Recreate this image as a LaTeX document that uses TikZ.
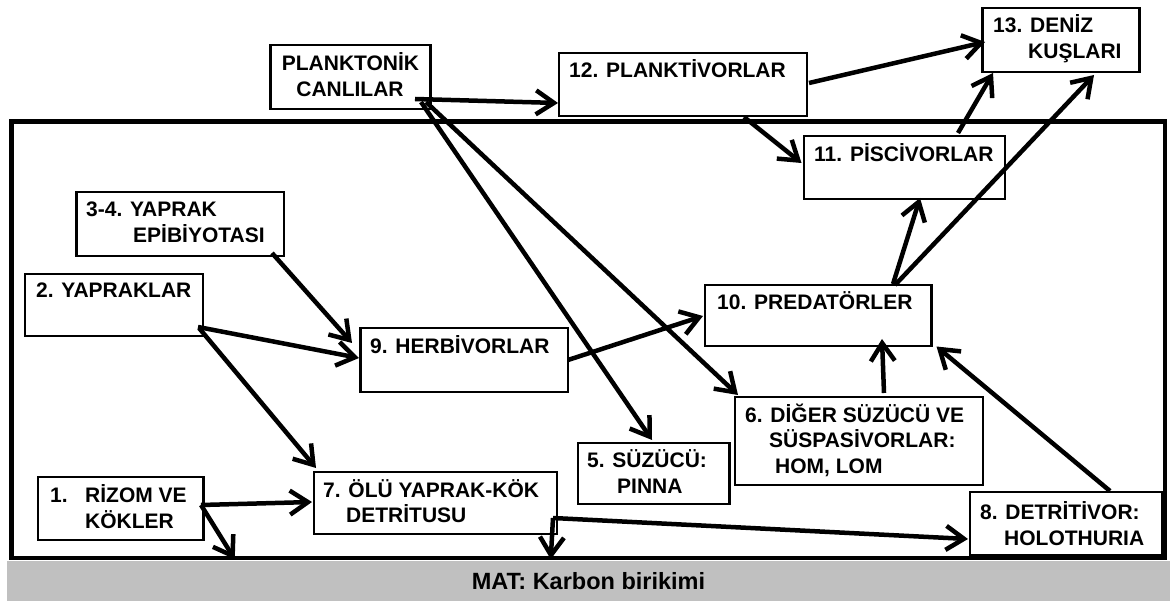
\documentclass[tikz,border=0pt]{standalone}
\usepackage{fontspec}
\setmainfont{Liberation Sans}
\usetikzlibrary{arrows.meta}
\definecolor{matgray}{RGB}{192,192,192}
\begin{document}
\begin{tikzpicture}[x=1pt,y=-1pt,
  box/.style={draw, line width=2.5pt, inner sep=0pt, outer sep=0pt},
  lbl/.style={anchor=base west, inner sep=0pt, font=\fontsize{21}{25}\selectfont\bfseries},
  lblc/.style={lbl, anchor=base},
  arr/.style={line width=4.5pt, -{Straight Barb[length=18pt,width=24pt]}},
]
\useasboundingbox (0,0) rectangle (1170,601);
% carbon bar and frame
\node[fill=matgray, minimum width=1163pt, minimum height=40pt, inner sep=0pt,
      font=\fontsize{23.5}{28}\selectfont\bfseries] (mat) at (588.5,581) {MAT: Karbon birikimi};
\node[draw, line width=4.5pt, inner sep=0pt, minimum width=1153.5pt, minimum height=436.5pt] (frame) at (588.25,339.75) {};
% boxes
\node[box, minimum width=160pt, minimum height=64pt] (pk)  at (350.5,77) {};
\node[box, minimum width=248pt, minimum height=63pt] (b12) at (683,84.5) {};
\node[box, minimum width=157pt, minimum height=64pt] (b13) at (1061,40) {};
\node[box, minimum width=201pt, minimum height=63pt] (b11) at (904.5,167.5) {};
\node[box, minimum width=226.5pt, minimum height=61pt] (b10) at (818.25,315.5) {};
\node[box, minimum width=207.5pt, minimum height=64pt] (b34) at (180.25,224) {};
\node[box, minimum width=178pt, minimum height=62pt] (b2)  at (114,305) {};
\node[box, minimum width=207.5pt, minimum height=64pt] (b9)  at (464.25,360) {};
\node[box, minimum width=243pt, minimum height=62pt] (b7)  at (435.5,503) {};
\node[box, minimum width=165.5pt, minimum height=63pt] (b1)  at (120.75,508.5) {};
\node[box, minimum width=151.5pt, minimum height=61pt] (b5)  at (653.75,473.5) {};
\node[box, minimum width=248pt, minimum height=88pt] (b6)  at (859,441) {};
\node[box, minimum width=192pt, minimum height=63pt] (b8)  at (1066,523.5) {};
% labels
\node[lblc] (pk-a) at (350.5,71) {PLANKTONİK};
\node[lblc] (pk-b) at (350,97) {CANLILAR};
\node[lbl] (b12-a) at (569,78) {12. PLANKTİVORLAR};
\node[lbl] (b13-a) at (993,33) {13. DENİZ};
\node[lbl] (b13-b) at (1028,59) {KUŞLARI};
\node[lbl] (b11-a) at (814,162) {11. PİSCİVORLAR};
\node[lbl] (b10-a) at (717,310) {10. PREDATÖRLER};
\node[lbl] (b34-a) at (86,217) {3-4. YAPRAK};
\node[lbl] (b34-b) at (133,243) {EPİBİYOTASI};
\node[lbl] (b2-a) at (36,298) {2. YAPRAKLAR};
\node[lbl] (b9-a) at (370,354) {9. HERBİVORLAR};
\node[lbl] (b6-a) at (745,422) {6. DİĞER SÜZÜCÜ VE};
\node[lbl] (b6-b) at (769,447) {SÜSPASİVORLAR:};
\node[lbl] (b6-c) at (775,473) {HOM, LOM};
\node[lbl] (b5-a) at (587,467) {5. SÜZÜCÜ:};
\node[lbl] (b5-b) at (617,493) {PINNA};
\node[lbl] (b8-a) at (980,519) {8. DETRİTİVOR:};
\node[lbl] (b8-b) at (1004,545) {HOLOTHURIA};
\node[lbl] (b7-a) at (323,497) {7. ÖLÜ YAPRAK-KÖK};
\node[lbl] (b7-b) at (346,522) {DETRİTUSU};
\node[lbl] (b1-a) at (50,502) {1.};
\node[lbl] (b1-b) at (85,502) {RİZOM VE};
\node[lbl] (b1-c) at (85,528) {KÖKLER};
% arrows
\draw[arr] ([shift={(-15.5,-10)}]pk.south east) -- ([shift={(-1,-13)}]b12.south west);
\draw[arr] ([shift={(-9.5,-7)}]pk.south east) -- ([shift={(-1.75,-3)}]b5.north);
\draw[arr] ([shift={(-4.5,-7)}]pk.south east) -- ([shift={(3,-2)}]b6.north west);
\draw[arr] ([shift={(-63,1)}]b12.south east) -- ([shift={(-2.5,-4.5)}]b11.west);
\draw[arr] ([shift={(2,-1.5)}]b12.east) -- ([shift={(2.5,2)}]b13.west);
\draw[arr] ([shift={(-47,-3)}]b11.north east) -- ([shift={(10.5,1)}]b13.south west);
\draw[arr] ([shift={(-36.5,0)}]b10.north east) -- ([shift={(33,3)}]b13.south);
\draw[arr] ([shift={(-38.5,-1)}]b10.north east) -- ([shift={(15.5,-1)}]b11.south);
\draw[arr] ([shift={(-12,-3)}]b34.south east) -- ([shift={(-8.5,15)}]b9.north west);
\draw[arr] ([shift={(-5,-9)}]b2.south east) -- ([shift={(-1.5,-2)}]b9.west);
\draw[arr] ([shift={(-4,-8)}]b2.south east) -- ([shift={(2,-4)}]b7.north west);
\draw[arr] ([shift={(-2.5,-3.5)}]b1.east) -- ([shift={(-2,-1)}]b7.west);
\draw[arr] ([shift={(-2.5,-3.5)}]b1.east) -- ([shift={(225.5,-1)}]frame.south west);
\draw[arr] ([shift={(-4,15)}]b7.east) -- ([shift={(541.5,-1)}]frame.south west);
\draw[arr] ([shift={(-4,15)}]b7.east) -- ([shift={(-2,15.5)}]b8.west);
\draw[arr] (b9.east) -- ([shift={(-2,0.5)}]b10.west);
\draw[arr] ([shift={(25,-4)}]b6.north) -- ([shift={(63.75,-7)}]b10.south);
\draw[arr] ([shift={(44,-1)}]b8.north) -- ([shift={(5,0.5)}]b10.south east);
\end{tikzpicture}
\end{document}
